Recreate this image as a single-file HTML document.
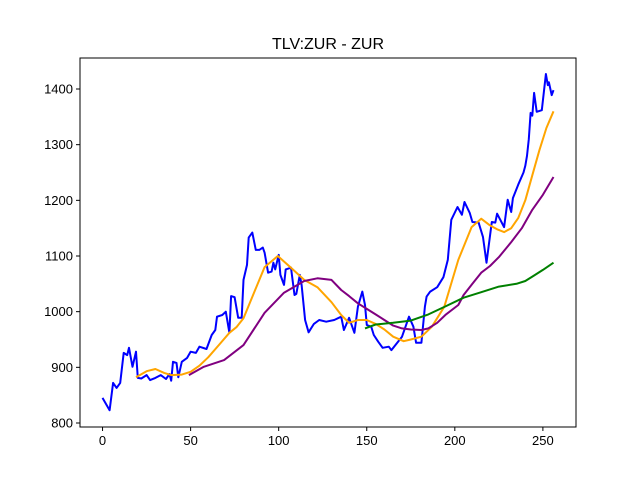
<!DOCTYPE html>
<html><head><meta charset="utf-8"><style>
body{margin:0;background:#fff;}
svg{display:block;font-family:"Liberation Sans","DejaVu Sans",sans-serif;}
</style></head><body>
<svg id="chart" width="640" height="480" xmlns="http://www.w3.org/2000/svg">
<rect width="640" height="480" fill="#fff"/>
<text x="328" y="49" font-size="16" text-anchor="middle">TLV:ZUR - ZUR</text>
<g id="plot"></g>
<rect x="80" y="58" width="496" height="369" fill="none" stroke="#000" stroke-width="1"/>
</svg>
<script>
const xTicks=[0,50,100,150,200,250];
const yTicks=[800,900,1000,1100,1200,1300,1400];
const priceX=[0,4,6,8,10,12,14,15,17,19,20,22,25,27,30,33,36,38,39,40,42,43,45,48,50,53,55,59,62,64,65,68,70,72,73,75,77,79,80,82,83,85,87,89,91,92,94,96,97,98,100,101,103,104,107,109,110,112,113,115,117,120,123,127,131.5,135.5,137,140,143,145,147.5,149,150,152.5,154,156.5,159,162.5,164,170,174,176.5,178,180,181,183,184,186,190,193.5,196,198,201.5,204,205.5,208.5,210,213.5,216,218,221,223,224,228,230,232,233,236,239,240,241,242,243,244,245,246.5,249.4,251.7,252.8,253.4,255,256];
const priceY=[845,823,872,863,872,926,922,935,901,928,881,880,886,877,881,886,879,888,876,910,908,882,910,917,928,926,937,933,958,967,991,994,1000,962,1028,1026,989,989,1057,1084,1133,1142,1111,1111,1115,1106,1070,1072,1088,1076,1102,1066,1048,1076,1079,1030,1032,1066,1048,985,963,978,985,982,985,991,967,989,962,1009,1036,1012,976,973,958,946,935,937,931,955,991,973,944,944,944,1009,1027,1036,1044,1062,1093,1165,1188,1174,1197,1177,1161,1160,1134,1088,1161,1160,1176,1152,1201,1179,1204,1228,1250,1262,1280,1310,1357,1352,1393,1359,1362,1427,1407,1412,1389,1398,1357];
const ma20X=[19,25,30,35,39,45,50,55,60,66,72,76,80,86,92,99.5,107,114.5,122,130,135.5,140,145,150,155,160,165,171,175,181,187,194,202,209.5,215,220,224,228,232,236,240,244,248,252,256];
const ma20Y=[882,893,897,890,886,887,892,903,918,940,962,972,988,1034,1080,1100,1079,1057,1044,1017,994,980,985,985,978,968,955,947,950,955,973,1009,1093,1152,1167,1155,1148,1143,1150,1168,1200,1245,1290,1330,1360];
const ma50X=[49,57.5,69,80,92,103,114.5,122,130,135.5,140,145,150,155,160,165,170,175,181,185,190,195,202,205,210,215,220,225,232,238,244,250,256];
const ma50Y=[886,901,913,940,998,1034,1055,1060,1057,1039,1028,1015,1005,995,985,975,970,968,967,970,980,995,1012,1030,1050,1070,1082,1098,1125,1150,1183,1210,1242];
const ma150X=[149,155,165,175,185,195,205,215,225,235,240,245,250,256];
const ma150Y=[970,977,980,984,995,1010,1025,1035,1045,1050,1055,1065,1075,1088];

const L=80,R=576,T=58,B=427,xmin=-12.8,xmax=268.8,ymin=792.8,ymax=1455.7;
function sx(v){return L+(v-xmin)/(xmax-xmin)*(R-L);}
function sy(v){return B-(v-ymin)/(ymax-ymin)*(B-T);}
const NS="http://www.w3.org/2000/svg";
const g=document.getElementById('plot');
function mk(tag,attrs){const e=document.createElementNS(NS,tag);for(const k in attrs)e.setAttribute(k,attrs[k]);g.appendChild(e);return e;}
xTicks.forEach(t=>{
  const l=mk('line',{x1:sx(t),x2:sx(t),y1:B,y2:B+4,stroke:'#000'});
  
  
  const tx=mk('text',{x:sx(t),y:B+18,'font-size':13,'text-anchor':'middle'});
  tx.textContent=t;
  
  
});
yTicks.forEach(t=>{
  const l=mk('line',{x1:L-4,x2:L,y1:sy(t),y2:sy(t),stroke:'#000'});
  
  
  const tx=mk('text',{x:L-7,y:sy(t)+4.5,'font-size':13,'text-anchor':'end'});
  tx.textContent=t;
  
  
});
function line(xs,ys,color,name){
  const d=xs.map((x,i)=>(i?'L':'M')+sx(x).toFixed(1)+','+sy(ys[i]).toFixed(1)).join('');
  const p=mk('path',{d:d,fill:'none',stroke:color,'stroke-width':2,'stroke-linejoin':'round'});
  
  
}
line(priceX,priceY,'#0000ff','price-line');
line(ma20X,ma20Y,'#ffa500','ma20-line');
line(ma50X,ma50Y,'#800080','ma50-line');
line(ma150X,ma150Y,'#008000','ma150-line');
</script>
</body></html>
